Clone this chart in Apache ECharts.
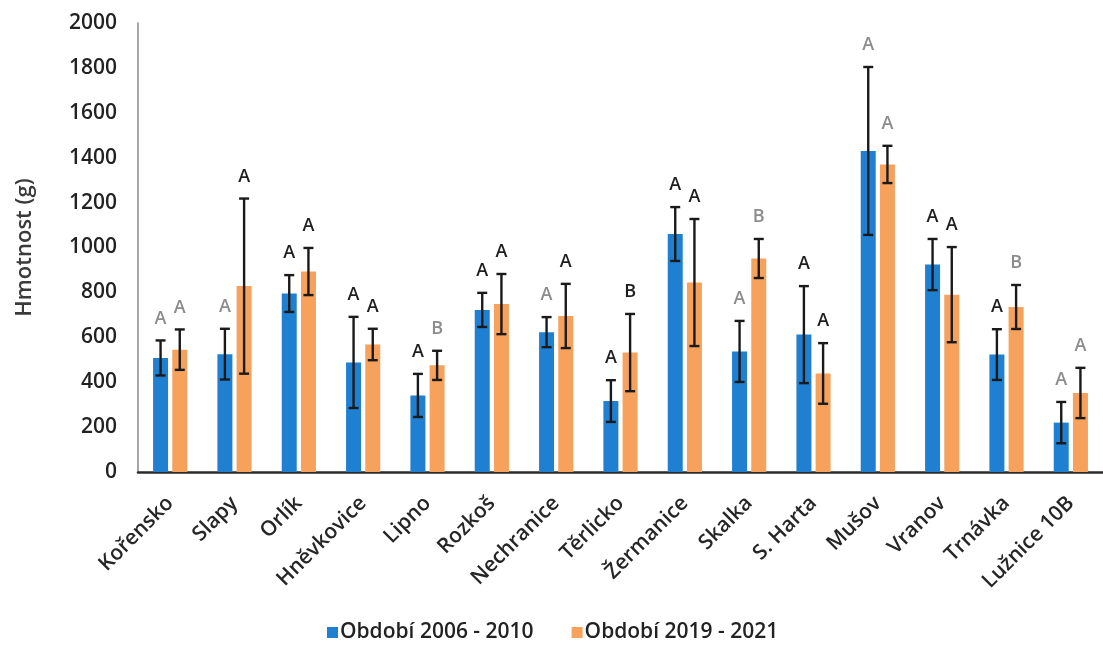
<!DOCTYPE html>
<html>
<head>
<meta charset="utf-8">
<script src="https://cdn.jsdelivr.net/npm/echarts@6/dist/echarts.min.js"></script>
<style>
  html, body { margin: 0; padding: 0; background: #fff; }
  #chart { width: 1103px; height: 651px; }
</style>
</head>
<body>
<div id="chart"></div>
<script>
// Reservoirs
var categories = ['Kořensko', 'Slapy', 'Orlík', 'Hněvkovice', 'Lipno', 'Rozkoš', 'Nechranice',
  'Těrlicko', 'Žermanice', 'Skalka', 'S. Harta', 'Mušov', 'Vranov', 'Trnávka', 'Lužnice 10B'];

// Období 2006 - 2010: mean weight (g) and standard deviation
var mean2006 = [508, 525, 795, 488, 341, 722, 623, 316, 1060, 537, 612, 1430, 924, 523, 220];
var sd2006   = [78, 113, 82, 203, 96, 76, 67, 93, 120, 136, 216, 374, 114, 113, 92];

// Období 2019 - 2021: mean weight (g) and standard deviation
var mean2019 = [545, 828, 893, 568, 475, 748, 695, 532, 844, 951, 439, 1370, 790, 735, 352];
var sd2019   = [90, 390, 105, 70, 65, 134, 143, 172, 283, 87, 135, 83, 212, 98, 112];

// Significance letters
var letters2006 = ['A', 'A', 'A', 'A', 'A', 'A', 'A', 'A', 'A', 'A', 'A', 'A', 'A', 'A', 'A'];
var letters2019 = ['A', 'A', 'A', 'A', 'B', 'A', 'A', 'B', 'A', 'B', 'A', 'A', 'A', 'B', 'A'];

var yTicks = [0, 200, 400, 600, 800, 1000, 1200, 1400, 1600, 1800, 2000];

var seriesNames = ['Období 2006 - 2010', 'Období 2019 - 2021'];
var BLUE = '#1f80d2';
var ORANGE = '#f6a15c';
var FONT = '"Open Sans", "DejaVu Sans", sans-serif';
var BAR_W = 15;
var BAR_OFFSET = 9.6;

// Letters printed in a lighter grey
var lightLetters = { 0: [0, 1, 6, 9, 11, 14], 1: [0, 4, 9, 11, 13, 14] };

function errorSeries(means, sds, letters, sIdx, offset) {
  var data = means.map(function (m, i) { return [i, m, sds[i]]; });
  return {
    type: 'custom',
    name: seriesNames[sIdx] + ' SD',
    z: 5,
    silent: true,
    data: data,
    encode: { x: 0, y: 1 },
    renderItem: function (params, api) {
      var i = api.value(0), m = api.value(1), sd = api.value(2);
      var top = api.coord([i, m + sd]);
      var bot = api.coord([i, m - sd]);
      var x = top[0] + offset;
      var cap = 5;
      var style = { stroke: '#1a1a1a', lineWidth: 2.4 };
      var light = lightLetters[sIdx].indexOf(i) >= 0;
      return {
        type: 'group',
        children: [
          { type: 'line', shape: { x1: x, y1: top[1], x2: x, y2: bot[1] }, style: style },
          { type: 'line', shape: { x1: x - cap, y1: top[1], x2: x + cap, y2: top[1] }, style: style },
          { type: 'line', shape: { x1: x - cap, y1: bot[1], x2: x + cap, y2: bot[1] }, style: style },
          {
            type: 'text',
            x: x, y: top[1] - 13,
            style: {
              text: letters[i],
              fill: light ? '#8c8c8c' : '#1e1e1e',
              font: '600 18px ' + FONT,
              textAlign: 'center',
              textVerticalAlign: 'bottom'
            }
          }
        ]
      };
    }
  };
}

var chart = echarts.init(document.getElementById('chart'), null, { renderer: 'canvas' });
chart.setOption({
  animation: false,
  backgroundColor: '#ffffff',
  grid: { left: 138, top: 23, width: 976, height: 449, containLabel: false },
  legend: {
    data: seriesNames,
    top: 617,
    left: 322,
    itemWidth: 11,
    itemHeight: 11,
    itemGap: 38,
    icon: 'rect',
    textStyle: { fontFamily: FONT, fontSize: 21, fontWeight: 600, color: '#222', padding: [0, 0, 0, -3] }
  },
  xAxis: {
    type: 'category',
    data: categories,
    axisLine: { show: true, lineStyle: { color: '#2b2b2b', width: 2.5 } },
    axisTick: { show: false },
    axisLabel: {
      interval: 0,
      rotate: 45,
      margin: 28,
      fontFamily: FONT,
      fontSize: 21,
      fontWeight: 600,
      color: '#262626'
    }
  },
  yAxis: {
    type: 'value',
    min: 0,
    max: yTicks[yTicks.length - 1],
    interval: yTicks[1] - yTicks[0],
    name: 'Hmotnost (g)',
    nameLocation: 'middle',
    nameGap: 102,
    nameTextStyle: { fontFamily: FONT, fontSize: 22, fontWeight: 600, color: '#3a3a3a' },
    axisLine: { show: true, lineStyle: { color: '#8a8a8a', width: 1.5 } },
    axisTick: { show: false },
    splitLine: { show: false },
    axisLabel: {
      margin: 21,
      fontFamily: FONT,
      fontSize: 21,
      fontWeight: 600,
      color: '#222',
      formatter: function (v) { return yTicks.indexOf(v) >= 0 ? String(v) : ''; }
    }
  },
  series: [
    { type: 'bar', name: seriesNames[0], data: mean2006, barWidth: BAR_W, barGap: '28%', itemStyle: { color: BLUE } },
    { type: 'bar', name: seriesNames[1], data: mean2019, barWidth: BAR_W, barGap: '28%', itemStyle: { color: ORANGE } },
    errorSeries(mean2006, sd2006, letters2006, 0, -BAR_OFFSET),
    errorSeries(mean2019, sd2019, letters2019, 1, BAR_OFFSET)
  ]
});
</script>
</body>
</html>
